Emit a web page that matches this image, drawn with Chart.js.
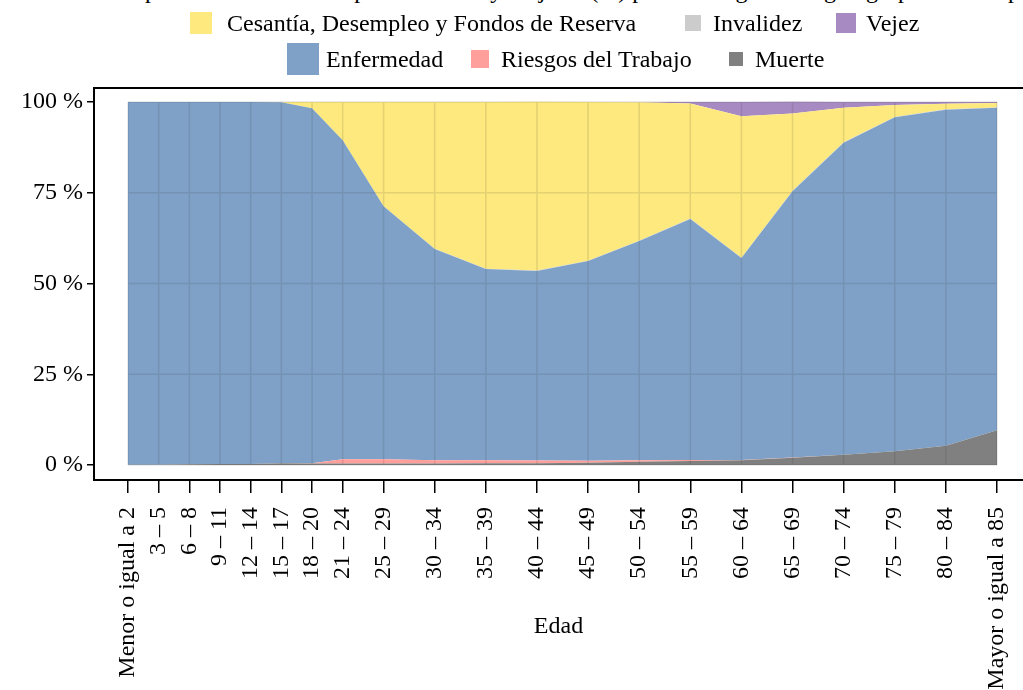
<!DOCTYPE html>
<html>
<head>
<meta charset="utf-8">
<script src="https://cdn.jsdelivr.net/npm/chart.js@4/dist/chart.umd.min.js"></script>
<style>
body { margin: 0; background: #fff; overflow: hidden; font-family: "Liberation Serif", serif; }
#wrap { position: relative; width: 1023px; height: 690px; overflow: hidden; }
#chart { position: absolute; left: 0; top: 0; }
.title { position: absolute; top: -22px; left: -300px; width: 1623px; text-align: center; font-size: 24px; line-height: 24px; white-space: nowrap; color: #000; }
.item { position: absolute; height: 36px; display: flex; align-items: center; font-size: 24px; white-space: nowrap; color: #000; }
.box { position: absolute; }
</style>
</head>
<body>
<div id="wrap">
  <div class="title">Distribución de montos de prestaciones médicas para hombres y mujeres (%) por Contingencia según grupo de edad para afiliados</div>
  <canvas id="chart" width="1023" height="690"></canvas>
</div>
<script>
// lower bound of each age group (x position on a linear age axis)
const ages = [0, 3, 6, 9, 12, 15, 18, 21, 25, 30, 35, 40, 45, 50, 55, 60, 65, 70, 75, 80, 85];
const ageLabels = ["Menor o igual a 2", "3 – 5", "6 – 8", "9 – 11", "12 – 14", "15 – 17", "18 – 20",
  "21 – 24", "25 – 29", "30 – 34", "35 – 39", "40 – 44", "45 – 49", "50 – 54", "55 – 59",
  "60 – 64", "65 – 69", "70 – 74", "75 – 79", "80 – 84", "Mayor o igual a 85"];

// shares (%) per age group, stacked from bottom to top
const muerte     = [0.1, 0.1, 0.2, 0.3, 0.3, 0.5, 0.4, 0.4, 0.4, 0.4, 0.5, 0.5, 0.6, 0.9, 1.1, 1.3, 2.0, 2.8, 3.8, 5.3, 9.6];
const riesgos    = [0, 0, 0, 0, 0, 0, 0.1, 1.2, 1.2, 0.9, 0.8, 0.75, 0.6, 0.4, 0.3, 0.1, 0.05, 0, 0, 0, 0];
const enfermedad = [99.9, 99.9, 99.8, 99.7, 99.7, 99.4, 97.8, 87.9, 69.7, 58.2, 52.7, 52.2, 55.0, 60.4, 66.4, 55.6, 73.4, 86.0, 92.0, 92.6, 88.8];
const invalidez  = [0, 0, 0, 0, 0, 0, 0, 0, 0, 0.1, 0.1, 0.1, 0.1, 0.1, 0.1, 0.1, 0.1, 0.1, 0.1, 0.1, 0.1];
const cesantia   = [0, 0, 0, 0, 0, 0.1, 1.7, 10.5, 28.7, 40.4, 45.9, 46.5, 43.7, 38.1, 31.7, 39.0, 21.3, 9.5, 3.3, 1.5, 1.2];
const vejez      = [0, 0, 0, 0, 0, 0, 0, 0, 0, 0, 0, 0, 0, 0.1, 0.4, 3.9, 3.2, 1.6, 0.8, 0.5, 0.3];

const yTicks = [0, 25, 50, 75, 100];

const series = [
  { label: "Muerte", data: muerte, color: "#808080" },
  { label: "Riesgos del Trabajo", data: riesgos, color: "#ff9f9b" },
  { label: "Enfermedad", data: enfermedad, color: "#7fa1c7" },
  { label: "Invalidez", data: invalidez, color: "#cccccc" },
  { label: "Cesantía, Desempleo y Fondos de Reserva", data: cesantia, color: "#fde97d" },
  { label: "Vejez", data: vejez, color: "#a88ac2" }
];

// legend layout (key centre x, key size, text x, row centre y)
const legendLayout = [
  { label: "Cesantía, Desempleo y Fondos de Reserva", cx: 201, size: 22, tx: 227, cy: 23 },
  { label: "Invalidez", cx: 693, size: 16, tx: 713, cy: 23 },
  { label: "Vejez", cx: 846, size: 20, tx: 866, cy: 23 },
  { label: "Enfermedad", cx: 303, size: 32, tx: 326, cy: 59 },
  { label: "Riesgos del Trabajo", cx: 480, size: 18, tx: 501, cy: 59 },
  { label: "Muerte", cx: 736, size: 14, tx: 755, cy: 59 }
];

const wrap = document.getElementById("wrap");
legendLayout.forEach(l => {
  const s = series.find(d => d.label === l.label);
  const box = document.createElement("div");
  box.className = "box";
  box.style.left = (l.cx - l.size / 2) + "px";
  box.style.top = (l.cy - l.size / 2) + "px";
  box.style.width = l.size + "px";
  box.style.height = l.size + "px";
  box.style.background = s.color;
  wrap.appendChild(box);
  const txt = document.createElement("div");
  txt.className = "item";
  txt.style.left = l.tx + "px";
  txt.style.top = (l.cy - 18) + "px";
  txt.textContent = l.label;
  wrap.appendChild(txt);
});

const FONT = "'Liberation Serif', 'Times New Roman', serif";

const gridOverlay = {
  id: "gridOverlay",
  afterDatasetsDraw(chart) {
    const { ctx, chartArea, scales: { x, y } } = chart;
    const x0 = x.getPixelForValue(ages[0]);
    const x1 = x.getPixelForValue(ages[ages.length - 1]);
    const y0 = y.getPixelForValue(0);
    const y1 = y.getPixelForValue(100);
    ctx.save();
    ctx.strokeStyle = "rgba(40,40,40,0.12)";
    ctx.lineWidth = 1.5;
    ctx.beginPath();
    ages.forEach(a => {
      const px = x.getPixelForValue(a);
      ctx.moveTo(px, y1);
      ctx.lineTo(px, y0);
    });
    yTicks.forEach(t => {
      const py = y.getPixelForValue(t);
      ctx.moveTo(x0, py);
      ctx.lineTo(x1, py);
    });
    ctx.stroke();
    ctx.strokeStyle = "#000";
    ctx.lineWidth = 2;
    ctx.beginPath();
    ctx.moveTo(chartArea.left - 1, chartArea.top);
    ctx.lineTo(chartArea.right, chartArea.top);
    ctx.stroke();
    ctx.restore();
  }
};

new Chart(document.getElementById("chart"), {
  type: "line",
  data: {
    datasets: series.map((s, i) => ({
      label: s.label,
      data: ages.map((a, j) => ({ x: a, y: s.data[j] })),
      backgroundColor: s.color,
      borderColor: s.color,
      borderWidth: 0,
      pointRadius: 0,
      tension: 0,
      fill: i === 0 ? "origin" : "-1"
    }))
  },
  options: {
    responsive: false,
    animation: false,
    layout: { padding: { top: 88, left: 0, right: 0, bottom: 0 } },
    plugins: { legend: { display: false }, tooltip: { enabled: false } },
    scales: {
      x: {
        type: "linear",
        min: -3.326,
        max: 87.543,
        afterBuildTicks: s => { s.ticks = ages.map(v => ({ value: v })); },
        afterFit: s => { s.height = 210; s.paddingLeft = 0; s.paddingRight = 0; },
        grid: { drawOnChartArea: false, drawTicks: true, tickLength: 13, color: "#000", lineWidth: 1.5 },
        border: { color: "#000", width: 2 },
        ticks: {
          autoSkip: false, maxRotation: 90, minRotation: 90, padding: 14, color: "#000",
          font: { family: FONT, size: 24 },
          callback: (v, i) => ageLabels[i]
        },
        title: { display: true, text: "Edad", color: "#000", font: { family: FONT, size: 24 }, padding: { top: 0, bottom: 49 } }
      },
      y: {
        stacked: true,
        min: -4.13,
        max: 103.86,
        afterBuildTicks: s => { s.ticks = yTicks.map(v => ({ value: v })); },
        afterFit: s => { s.width = 94; s.paddingTop = 0; s.paddingBottom = 0; },
        grid: { drawOnChartArea: false, drawTicks: true, tickLength: 7, color: "#000", lineWidth: 1.5 },
        border: { color: "#000", width: 2 },
        ticks: {
          padding: 4, color: "#000",
          font: { family: FONT, size: 24 },
          callback: v => v + " %"
        }
      }
    }
  },
  plugins: [gridOverlay]
});
</script>
</body>
</html>
